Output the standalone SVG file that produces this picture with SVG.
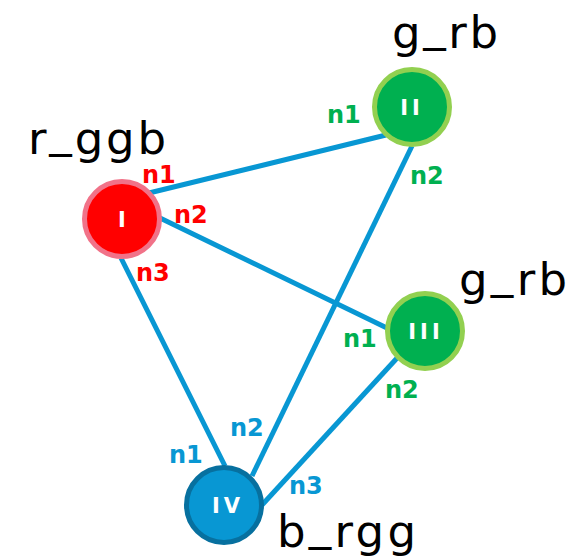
<svg xmlns="http://www.w3.org/2000/svg" width="576" height="556" viewBox="0 0 576 556">
  <style>
    .edge { stroke: #0897d3; stroke-width: 5; fill: none; }
    .big { font-family: "DejaVu Sans", sans-serif; font-size: 45px; fill: #000; }
    .port { font-family: "DejaVu Sans", sans-serif; font-weight: bold; font-size: 24px; }
    .red { fill: #ff0000; }
    .green { fill: #00b050; }
    .blue { fill: #0897d3; }
    .nlabel { font-family: "DejaVu Sans", sans-serif; font-weight: bold; font-size: 21px; fill: #ffffff; text-anchor: middle; letter-spacing: 4px; }
  </style>
  <rect width="576" height="556" fill="#ffffff"/>
  <g id="connectors">
    <line class="edge" x1="149" y1="193" x2="386" y2="135"/>
    <line class="edge" x1="160" y1="218" x2="389" y2="329"/>
    <line class="edge" x1="121" y1="258" x2="225" y2="466"/>
    <line class="edge" x1="412" y1="146" x2="252" y2="476"/>
    <line class="edge" x1="398" y1="357" x2="262" y2="505"/>
  </g>
  <g id="node-I">
    <circle cx="122" cy="219" r="37.5" fill="#ff0000" stroke="#f17288" stroke-width="5"/>
    <text class="nlabel" x="124" y="227">I</text>
    <text class="big" x="28" y="154" textLength="138" lengthAdjust="spacing">r<tspan dy="-8">_</tspan><tspan dy="8">ggb</tspan></text>
    <text class="port red" x="142" y="183">n1</text>
    <text class="port red" x="174" y="223">n2</text>
    <text class="port red" x="136" y="281">n3</text>
  </g>
  <g id="node-II">
    <circle cx="412" cy="107" r="37.5" fill="#00b050" stroke="#92d050" stroke-width="5"/>
    <text class="nlabel" x="412" y="115">II</text>
    <text class="big" x="392" y="48" textLength="106" lengthAdjust="spacing">g<tspan dy="-8">_</tspan><tspan dy="8">rb</tspan></text>
    <text class="port green" x="327" y="123">n1</text>
    <text class="port green" x="410" y="184">n2</text>
  </g>
  <g id="node-III">
    <circle cx="425" cy="331" r="37.5" fill="#00b050" stroke="#92d050" stroke-width="5"/>
    <text class="nlabel" x="426" y="339">III</text>
    <text class="big" x="459" y="295" textLength="108" lengthAdjust="spacing">g<tspan dy="-8">_</tspan><tspan dy="8">rb</tspan></text>
    <text class="port green" x="343" y="347">n1</text>
    <text class="port green" x="385" y="398">n2</text>
  </g>
  <g id="node-IV">
    <circle cx="224" cy="505" r="37.5" fill="#0897d3" stroke="#07709f" stroke-width="5"/>
    <text class="nlabel" x="228" y="513">IV</text>
    <text class="big" x="277" y="547" textLength="139" lengthAdjust="spacing">b<tspan dy="-8">_</tspan><tspan dy="8">rgg</tspan></text>
    <text class="port blue" x="169" y="463">n1</text>
    <text class="port blue" x="230" y="436">n2</text>
    <text class="port blue" x="289" y="494">n3</text>
  </g>
</svg>
